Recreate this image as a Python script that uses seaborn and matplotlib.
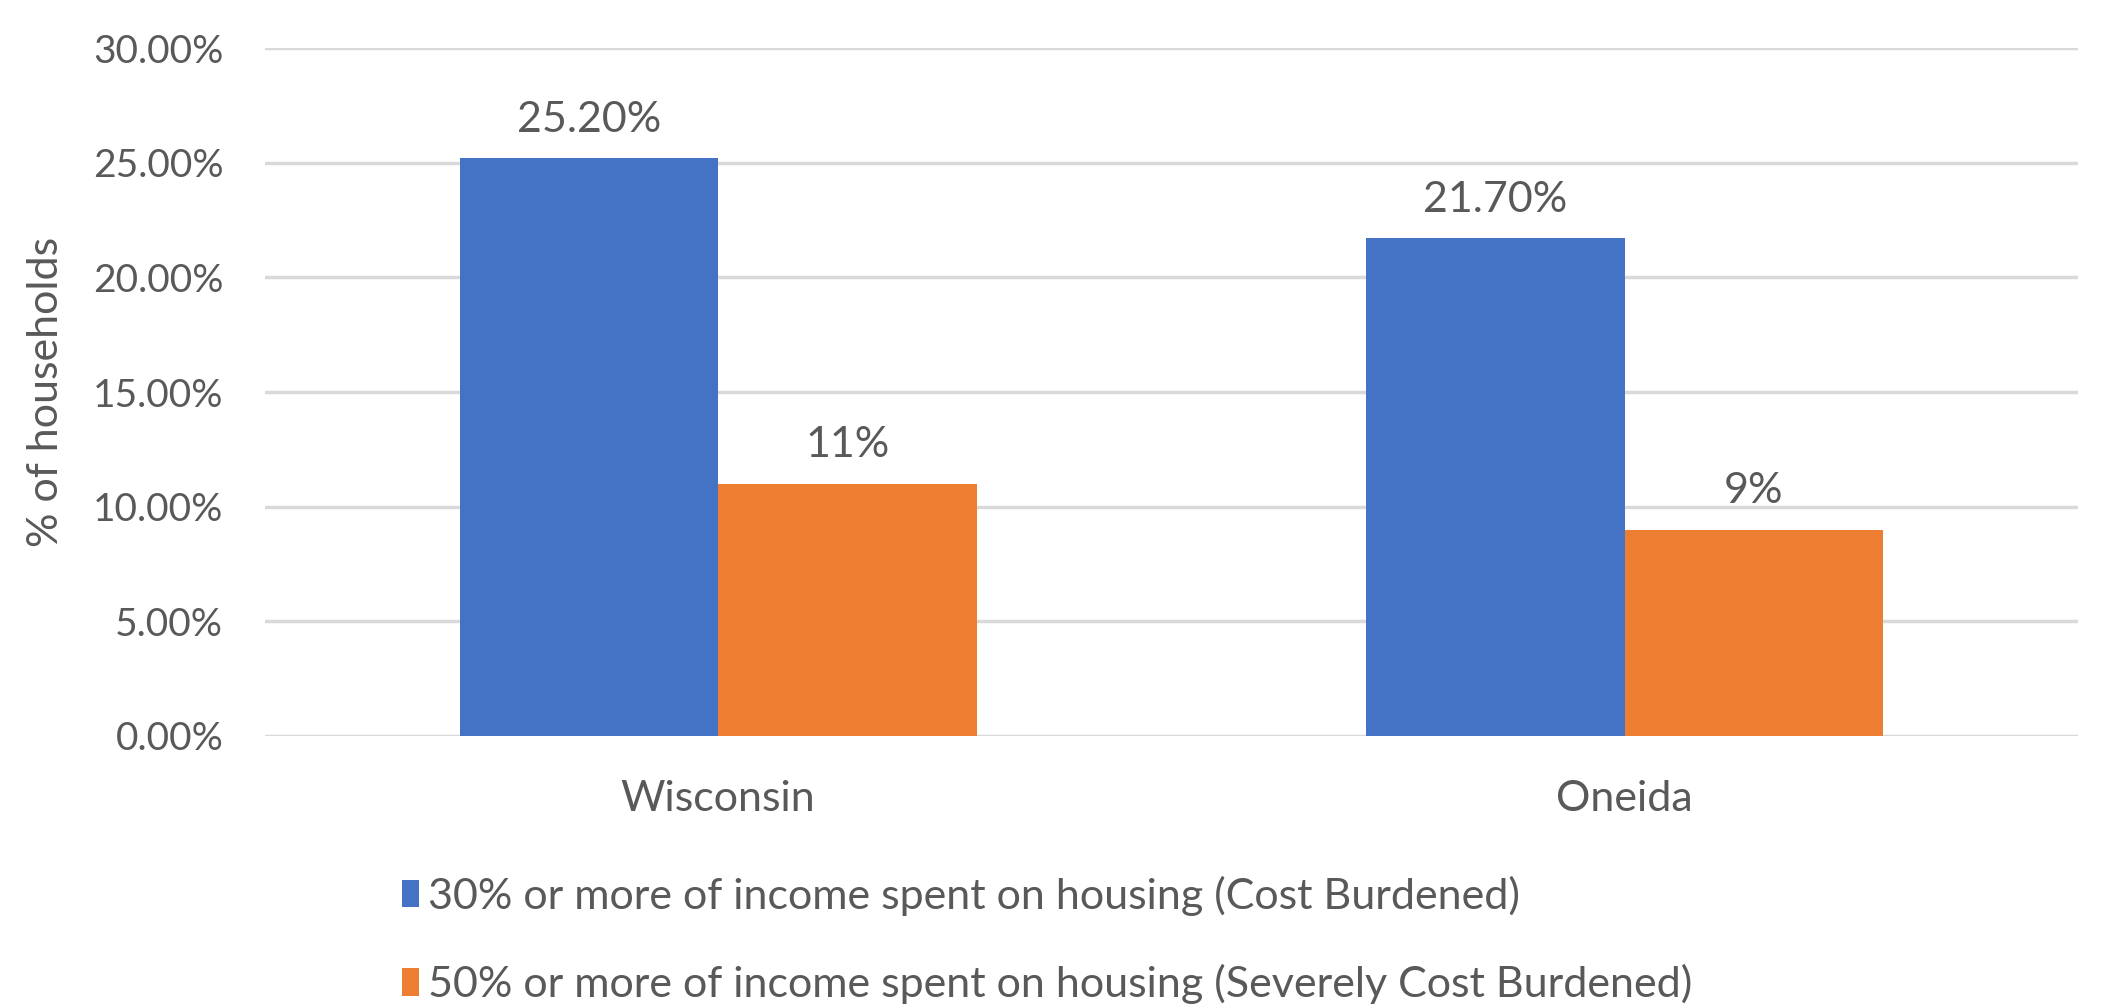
import numpy as np
import pandas as pd
import matplotlib
matplotlib.use("Agg")
import matplotlib.pyplot as plt
import seaborn as sns
from matplotlib.ticker import PercentFormatter

regions = ["Wisconsin", "Oneida"]
series = ["30% or more of income spent on housing (Cost Burdened)",
          "50% or more of income spent on housing (Severely Cost Burdened)"]
cost_burdened = [0.252, 0.217]
severely_burdened = [0.11, 0.09]
bar_labels = [["25.20%", "21.70%"], ["11%", "9%"]]
colors = ["#4472C4", "#ED7D31"]

df = pd.DataFrame({
    "region": regions * 2,
    "series": [series[0]] * 2 + [series[1]] * 2,
    "value": cost_burdened + severely_burdened,
})

sns.set_style("white")
plt.rcParams["font.family"] = ["Lato", "DejaVu Sans"]
grey = "#595959"
fs = 31

fig = plt.figure(figsize=(21.06, 10.05), dpi=100)
ax = fig.add_axes([0.1258, 0.2677, 0.8609, 0.6845])

sns.barplot(data=df, x="region", y="value", hue="series", palette=colors,
            width=0.57, gap=0, saturation=1, linewidth=0, ax=ax, legend=True)

ax.set_ylim(0, 0.30)
ax.set_yticks(np.arange(0, 0.301, 0.05))
ax.yaxis.set_major_formatter(PercentFormatter(1.0, decimals=2))
ax.grid(axis="y", color="#D9D9D9", linewidth=2.5)
ax.set_axisbelow(True)
for s in ax.spines.values():
    s.set_visible(False)
ax.tick_params(axis="both", length=0, colors=grey)
ax.tick_params(axis="y", pad=30, labelsize=28)
ax.tick_params(axis="x", pad=32, labelsize=fs)
ax.set_xlabel("")
ax.set_ylabel("% of households", fontsize=fs, color=grey, labelpad=20)

for cont, labs in zip(ax.containers, bar_labels):
    ax.bar_label(cont, labels=labs, padding=14, fontsize=fs, color=grey)

handles, labels = ax.get_legend_handles_labels()
ax.legend(handles, labels, loc="upper left", bbox_to_anchor=(0.066, -0.178),
          ncol=1, frameon=False, fontsize=fs, labelcolor=grey,
          handlelength=0.4, handleheight=0.6, handletextpad=0.2,
          labelspacing=1.12, borderaxespad=0)

fig.savefig("out.png", dpi=100)
